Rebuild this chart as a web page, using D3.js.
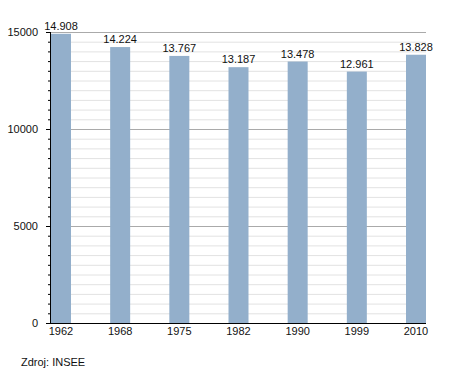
<!DOCTYPE html>
<html><head><meta charset="utf-8">
<script src="https://cdn.jsdelivr.net/npm/d3@7"></script>
<style>body{margin:0;background:#fff;} svg{display:block;font-family:"Liberation Sans",Arial,sans-serif;}</style>
</head><body>
<script>
const years = ["1962","1968","1975","1982","1990","1999","2010"];
const population = [14908,14224,13767,13187,13478,12961,13828];
const labels = ["14.908","14.224","13.767","13.187","13.478","12.961","13.828"];
const yTicks = [0,5000,10000,15000];

const W=455,H=373;
const svg=d3.select("body").append("svg").attr("width",W).attr("height",H);
const x=d3.scaleBand().domain(years).range([51,426]).paddingInner(0.662).paddingOuter(0);
const y=d3.scaleLinear().domain([0,15000]).range([323,32]);

const minor=d3.range(500,15000,500).filter(v=>v%5000!==0);
svg.append("g").selectAll("line").data(minor).join("line")
 .attr("x1",51).attr("x2",426).attr("y1",d=>y(d)+0.5).attr("y2",d=>y(d)+0.5)
 .attr("stroke","#e2e2e2").attr("stroke-width",1);
svg.append("g").selectAll("line").data(yTicks.filter(v=>v>0)).join("line")
 .attr("x1",51).attr("x2",426).attr("y1",d=>y(d)+0.5).attr("y2",d=>y(d)+0.5)
 .attr("stroke","#aaaaaa").attr("stroke-width",1);

svg.append("g").selectAll("rect").data(population).join("rect")
 .attr("x",(d,i)=>x(years[i])).attr("width",x.bandwidth())
 .attr("y",d=>y(d)).attr("height",d=>y(0)-y(d))
 .attr("fill","#93afcb");

svg.append("g").selectAll("text").data(population).join("text")
 .attr("x",(d,i)=>x(years[i])+x.bandwidth()/2).attr("y",d=>y(d)-4)
 .attr("text-anchor","middle").attr("font-size",11).attr("fill","#111")
 .text((d,i)=>labels[i]);

// y axis minor ticks
svg.append("g").selectAll("line").data(d3.range(0,15001,500)).join("line")
 .attr("x1",d=>d%5000===0?46:48).attr("x2",51).attr("y1",d=>y(d)+0.5).attr("y2",d=>y(d)+0.5)
 .attr("stroke","#000").attr("stroke-width",1);
svg.append("line").attr("x1",50.5).attr("x2",50.5).attr("y1",32).attr("y2",324).attr("stroke","#000");
svg.append("line").attr("x1",50).attr("x2",426).attr("y1",323.5).attr("y2",323.5).attr("stroke","#000");

svg.append("g").selectAll("text").data(yTicks).join("text")
 .attr("x",38).attr("y",d=>y(d)+4).attr("text-anchor","end").attr("font-size",11).attr("fill","#111")
 .text(d=>d);

svg.append("g").selectAll("text").data(years).join("text")
 .attr("x",d=>x(d)+x.bandwidth()/2).attr("y",335).attr("text-anchor","middle")
 .attr("font-size",11).attr("fill","#111").text(d=>d);

svg.append("text").attr("x",21).attr("y",366).attr("font-size",11).attr("fill","#111").text("Zdroj: INSEE");
</script>
</body></html>
